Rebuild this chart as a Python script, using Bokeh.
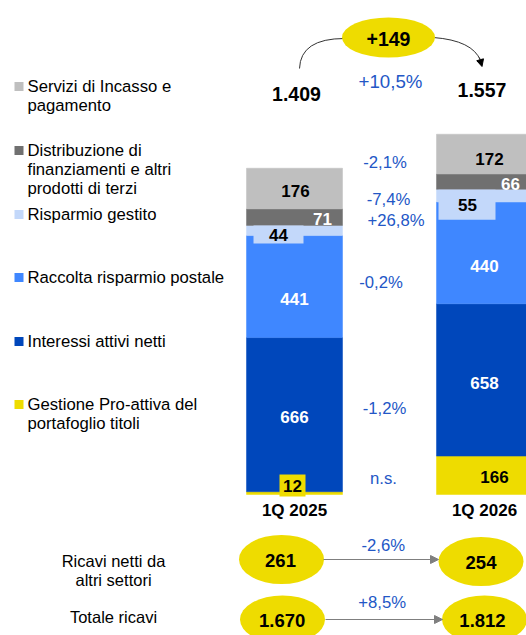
from bokeh.plotting import figure
from bokeh.models import Range1d, ColumnDataSource, Arrow, NormalHead
from bokeh.embed import file_html
from bokeh.resources import INLINE
from bokeh.core.properties import value

# ---------------- data ----------------
periods = ["1Q 2025", "1Q 2026"]
segments = ["gestione", "interessi", "raccolta", "risparmio", "distribuzione", "servizi"]
legend_texts = [
    ["Gestione Pro-attiva del", "portafoglio titoli"],
    ["Interessi attivi netti"],
    ["Raccolta risparmio postale"],
    ["Risparmio gestito"],
    ["Distribuzione di", "finanziamenti e altri", "prodotti di terzi"],
    ["Servizi di Incasso e", "pagamento"],
]
q1_2025 = [12, 666, 441, 44, 71, 176]
q1_2026 = [166, 658, 440, 55, 66, 172]
growth = ["n.s.", "-1,2%", "-0,2%", "+26,8%", "-7,4%", "-2,1%"]
totals = ["1.409", "1.557"]
total_delta = "+149"
total_pct = "+10,5%"
other_label = ["Ricavi netti da", "altri settori"]
other_values = ["261", "254"]
other_pct = "-2,6%"
revenue_label = ["Totale ricavi"]
revenue_values = ["1.670", "1.812"]
revenue_pct = "+8,5%"

colors = ["#EEDC00", "#0047BB", "#3F87FF", "#C3D8FA", "#707070", "#BFBFBF"]
label_colors = ["black", "white", "white", "black", "white", "black"]
BLUE_TXT = "#2357C6"
YELLOW = "#EEDC00"
FONT = value("Liberation Sans")

# ---------------- layout (screen px) ----------------
W, H = 526, 635
XC0, XPI = 294, 190          # bar 0 centre, px per bar index
BASE, PXU = 494, 0.2314      # baseline screen y, px per unit
BAR_W = 96

p = figure(width=W, height=H, output_backend="svg", toolbar_location=None,
           x_range=Range1d(0, W), y_range=Range1d(H, 0),
           x_axis_location=None, y_axis_location=None, min_border=0)
p.outline_line_color = None
p.grid.grid_line_color = None
p.background_fill_color = "white"
p.border_fill_color = "white"
p.extra_x_ranges = {"val": Range1d(-XC0 / XPI, (W - XC0) / XPI)}
p.extra_y_ranges = {"val": Range1d(-(H - BASE) / PXU, BASE / PXU)}

# ---------------- stacked bars ----------------
data = {"x": [0, 1]}
for k, s in enumerate(segments):
    data[s] = [q1_2025[k], q1_2026[k]]
src = ColumnDataSource(data)
p.vbar_stack(segments, x="x", width=BAR_W / XPI, color=colors, source=src,
             x_range_name="val", y_range_name="val", line_width=0.5)

# label boxes and labels
lab_dx = [[-2, 0, 0, -16, 28, 1], [10, 0, 0, -17, 26, 5]]
lab_dy = [[-7.6, 2, 12, 5, 2, 2], [2, 3, 13, 9, 2, 5]]
boxes = {  # (period, segment): (w, h, dx, dy, color)
    (0, 0): (26, 22, -2, -7.6, YELLOW),
    (0, 3): (50, 18, -16, 4, colors[3]),
    (1, 3): (57, 30, -17.5, 9, colors[3]),
}
lx, ly, lt, lc, ldx, ldy = [], [], [], [], [], []
bx, by, bw, bh, bc = [], [], [], [], []
for i, vals in enumerate([q1_2025, q1_2026]):
    cum = 0
    for k, v in enumerate(vals):
        mid = cum + v / 2
        lx.append(i); ly.append(mid); lt.append(str(v)); lc.append(label_colors[k])
        ldx.append(lab_dx[i][k]); ldy.append(lab_dy[i][k])
        if (i, k) in boxes:
            w, h, dx, dy, c = boxes[(i, k)]
            bx.append(i + dx / XPI); by.append(mid - dy / PXU)
            bw.append(w); bh.append(h); bc.append(c)
        cum += v
p.rect(x=bx, y=by, width=bw, height=bh, width_units="screen", height_units="screen",
       fill_color=bc, line_color=None, x_range_name="val", y_range_name="val")
p.text(x="x", y="y", text="t", text_color="c", x_offset="dx", y_offset="dy",
       source=ColumnDataSource(dict(x=lx, y=ly, t=lt, c=lc, dx=ldx, dy=ldy)),
       text_font=FONT, text_font_style="bold", text_font_size="17px",
       text_align="center", text_baseline="middle",
       x_range_name="val", y_range_name="val")

# category labels
p.text(x=[0, 1], y=[0, 0], text=periods, y_offset=16, text_font=FONT,
       text_font_style="bold", text_font_size="17px", text_align="center",
       text_baseline="middle", text_color="black",
       x_range_name="val", y_range_name="val")

# totals above bars
p.text(x=[296, 481.5], y=[93, 89], text=totals, text_font=FONT, text_font_style="bold",
       text_font_size="19.5px", text_align="center", text_baseline="middle", text_color="black")

# growth percentages
gx = [383, 384, 380.5, 395.5, 388, 384.5]
gy = [478, 408, 282, 220, 199, 162]
p.text(x=gx, y=gy, text=growth, text_font=FONT, text_font_size="16.7px",
       text_align="center", text_baseline="middle", text_color=BLUE_TXT)
p.text(x=[390], y=[81], text=[total_pct], text_font=FONT, text_font_size="18.7px",
       text_align="center", text_baseline="middle", text_color=BLUE_TXT)

# top curved arrow
p.quadratic(x0=[299], y0=[68], x1=[344], y1=[38], cx=[300], cy=[38], line_color="#333333", line_width=1)
p.quadratic(x0=[433], y0=[37], x1=[480], y1=[60], cx=[472], cy=[40], line_color="#333333", line_width=1)
p.add_layout(Arrow(end=NormalHead(size=7, fill_color="black", line_color="black"),
                   x_start=479, y_start=57, x_end=481.5, y_end=66,
                   line_color="#333333", line_width=1))
p.ellipse(x=[388], y=[37], width=[93], height=[40], fill_color=YELLOW, line_color=None)
p.text(x=[388], y=[38], text=[total_delta], text_font=FONT, text_font_style="bold",
       text_font_size="19.5px", text_align="center", text_baseline="middle", text_color="black")

# legend
leg_y = [[404, 423], [341], [277], [214], [150, 169, 188], [86, 105]]
for k in range(len(segments)):
    p.rect(x=[18.5], y=[leg_y[k][0]], width=[9], height=[9], fill_color=colors[k], line_color=None)
    p.text(x=[27] * len(legend_texts[k]), y=leg_y[k], text=legend_texts[k], text_font=FONT,
           text_font_size="16.7px", text_align="left", text_baseline="middle", text_color="black")

# bottom rows
p.text(x=[113, 113], y=[560, 579], text=other_label, text_font=FONT, text_font_size="16.5px",
       text_align="center", text_baseline="middle", text_color="black")
p.text(x=[113], y=[616], text=revenue_label, text_font=FONT, text_font_size="16.5px",
       text_align="center", text_baseline="middle", text_color="black")

for (ya, yb, x_start, x_end) in [(559, 559, 323, 438), (619, 619, 325, 442)]:
    p.add_layout(Arrow(end=NormalHead(size=8, fill_color="#7F7F7F", line_color="#7F7F7F"),
                       x_start=x_start, y_start=ya, x_end=x_end, y_end=yb,
                       line_color="#7F7F7F", line_width=1.2))

p.ellipse(x=[281, 480.5, 282, 484], y=[559, 561, 619, 619], width=[85, 85, 85, 85],
          height=[49, 49, 48, 48], fill_color=YELLOW, line_color=None)
p.text(x=[280, 480.5], y=[560, 562], text=other_values, text_font=FONT, text_font_style="bold",
       text_font_size="18.5px", text_align="center", text_baseline="middle", text_color="black")
p.text(x=[281.7, 482], y=[620, 620], text=revenue_values, text_font=FONT, text_font_style="bold",
       text_font_size="18.5px", text_align="center", text_baseline="middle", text_color="black")
p.text(x=[382.7, 381.7], y=[545, 602], text=[other_pct, revenue_pct], text_font=FONT,
       text_font_size="16.7px", text_align="center", text_baseline="middle", text_color=BLUE_TXT)

open("out.html", "w").write(file_html(p, INLINE))
